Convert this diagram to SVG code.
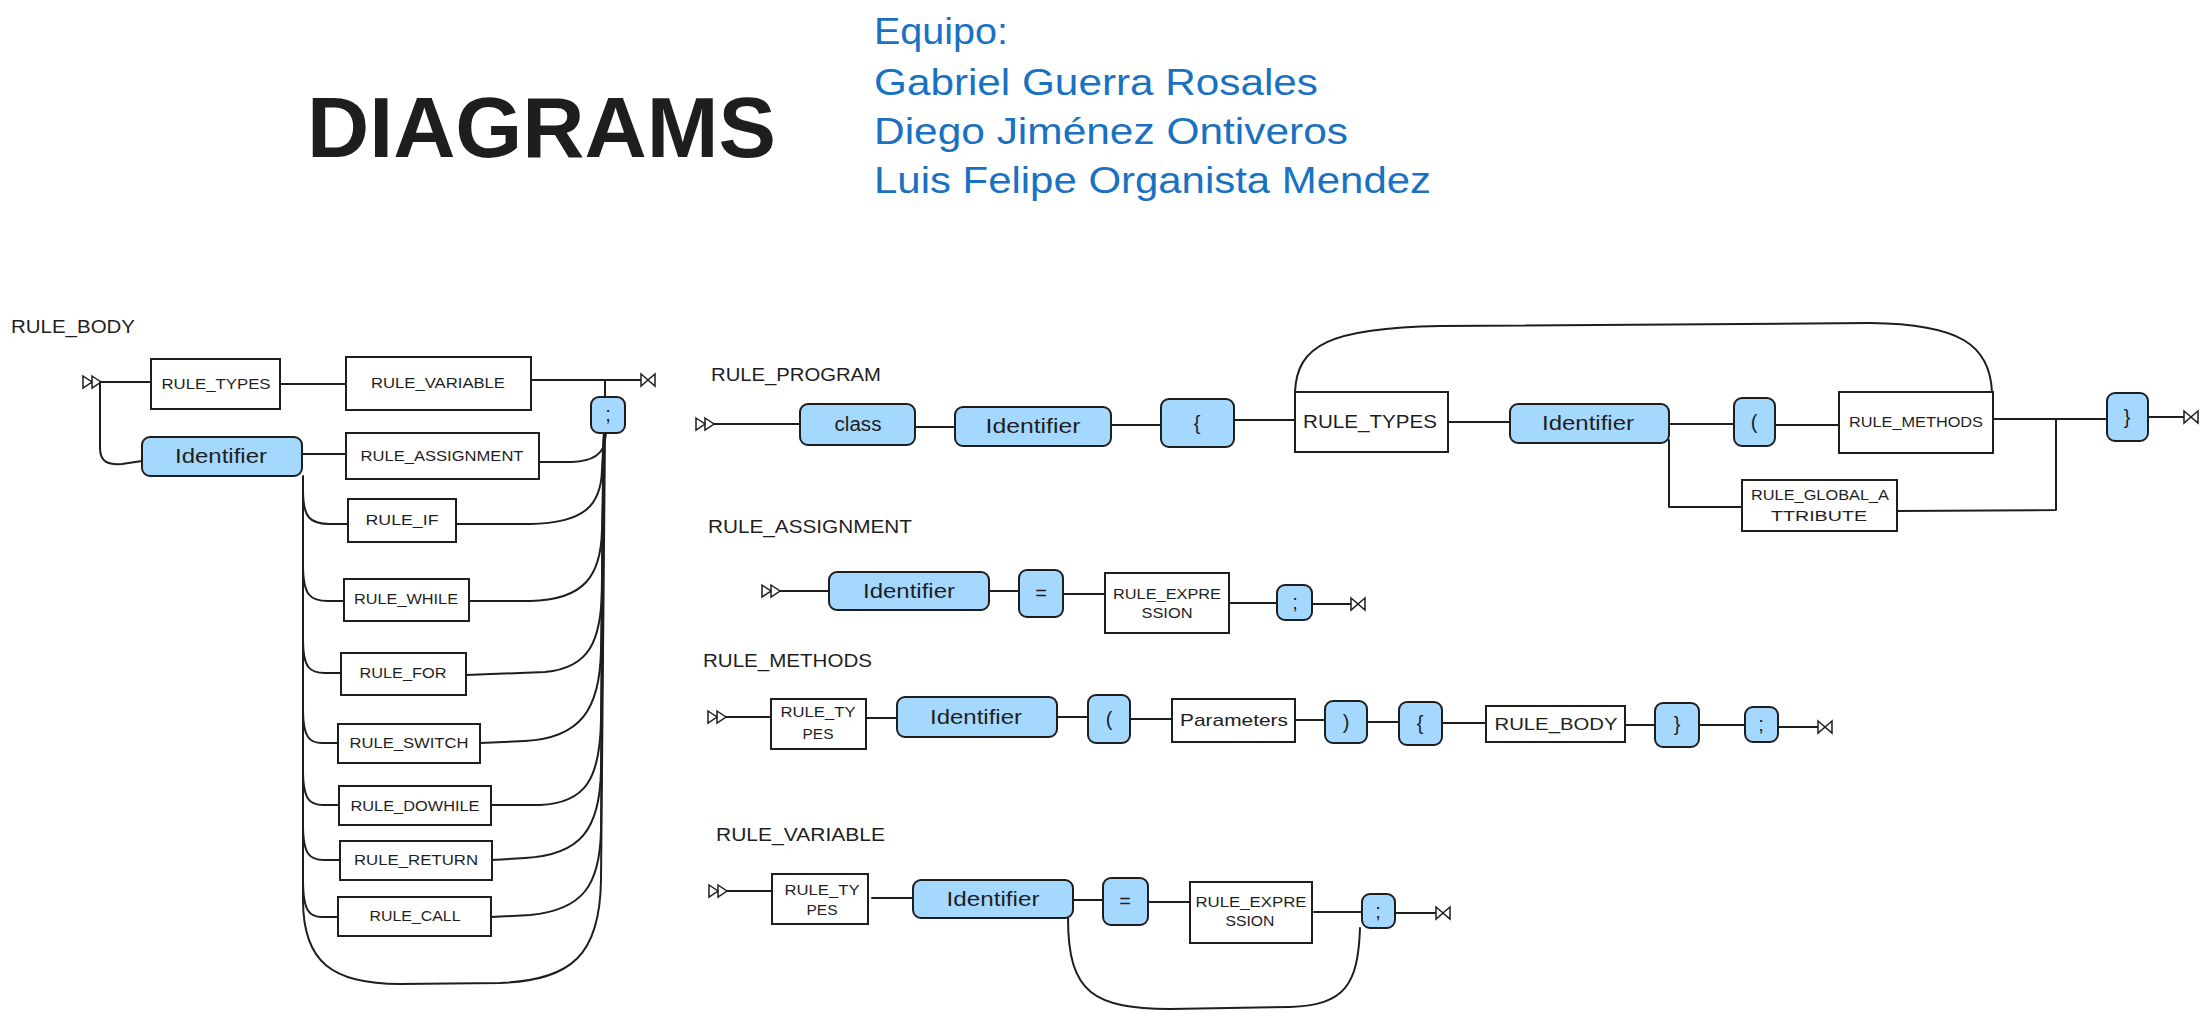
<svg xmlns="http://www.w3.org/2000/svg" width="2207" height="1020" viewBox="0 0 2207 1020">
<style>
.box{fill:#ffffff;stroke:#1e1e1e;stroke-width:2}
.tok{fill:#a5d8ff;stroke:#1e1e1e;stroke-width:2}
.c{fill:none;stroke:#1e1e1e;stroke-width:2;stroke-linecap:round;stroke-linejoin:round}
.t{font-family:"Liberation Sans",Arial,sans-serif;fill:#1e1e1e;text-anchor:middle}
.s{font-size:14px}
.m{font-size:20px}
.h{font-family:"Liberation Sans",Arial,sans-serif;fill:#1e1e1e;font-size:18px}
.blue{font-family:"Liberation Sans",Arial,sans-serif;fill:#1971c2;font-size:36px}
</style>
<defs>
<marker id="st" markerUnits="userSpaceOnUse" markerWidth="22" markerHeight="16" refX="19" refY="8" orient="auto" overflow="visible">
<path d="M1,2 L10,8 L1,14 Z M10,2 L19,8 L10,14 Z" fill="#ffffff" stroke="#1e1e1e" stroke-width="1.5"/>
</marker>
<marker id="en" markerUnits="userSpaceOnUse" markerWidth="20" markerHeight="16" refX="1" refY="8" orient="auto" overflow="visible">
<path d="M1,2 L8,8 L1,14 Z M15,2 L8,8 L15,14 Z" fill="#ffffff" stroke="#1e1e1e" stroke-width="1.5"/>
</marker>
</defs>
<rect width="2207" height="1020" fill="#ffffff"/>

<g id="header">
<text x="307" y="157" font-family="Liberation Sans,Arial,sans-serif" font-weight="bold" font-size="86" fill="#1e1e1e" textLength="469" lengthAdjust="spacingAndGlyphs">DIAGRAMS</text>
<text class="blue" x="874" y="44" textLength="134" lengthAdjust="spacingAndGlyphs">Equipo:</text>
<text class="blue" x="874" y="95" textLength="444" lengthAdjust="spacingAndGlyphs">Gabriel Guerra Rosales</text>
<text class="blue" x="874" y="144" textLength="474" lengthAdjust="spacingAndGlyphs">Diego Jiménez Ontiveros</text>
<text class="blue" x="874" y="193" textLength="557" lengthAdjust="spacingAndGlyphs">Luis Felipe Organista Mendez</text>
</g>

<g id="titles">
<text class="h" x="11" y="333" textLength="124" lengthAdjust="spacingAndGlyphs">RULE_BODY</text>
<text class="h" x="711" y="381" textLength="170" lengthAdjust="spacingAndGlyphs">RULE_PROGRAM</text>
<text class="h" x="708" y="533" textLength="204" lengthAdjust="spacingAndGlyphs">RULE_ASSIGNMENT</text>
<text class="h" x="703" y="667" textLength="169" lengthAdjust="spacingAndGlyphs">RULE_METHODS</text>
<text class="h" x="716" y="841" textLength="169" lengthAdjust="spacingAndGlyphs">RULE_VARIABLE</text>
</g>

<g id="connectors">
<!-- RULE_BODY -->
<path class="c" d="M101 382 L151 382" marker-start="url(#st)"/>
<path class="c" d="M280 384 L346 384"/>
<path class="c" d="M531 380 L641 380" marker-end="url(#en)"/>
<path class="c" d="M605 380 L605 397"/>
<path class="c" d="M100 382 L100 448 C100 462,108 465,122 464 L142 461"/>
<path class="c" d="M302 454 L346 454"/>
<path class="c" d="M539 462 L572 462 C596 461,604 452,605 440 L606 433"/>
<path class="c" d="M303 476 L303 900 C303 962,332 984,400 984 L500 983 C572 980,600 955,601 880 L605 433"/>
<path class="c" d="M303 490 C303 518,310 524,330 524 L348 524"/>
<path class="c" d="M456 524 L530 524 C585 523,601 505,602 470 L604 433"/>
<path class="c" d="M303 565 C303 595,310 601,328 601 L344 601"/>
<path class="c" d="M469 601 L530 601 C585 600,601 575,602 530 L604 433"/>
<path class="c" d="M303 640 C303 668,310 673,325 673 L341 673"/>
<path class="c" d="M466 675 L545 672 C590 668,601 640,602 590 L604 433"/>
<path class="c" d="M303 710 C303 738,310 743,322 743 L338 743"/>
<path class="c" d="M480 743 L525 741 C580 738,600 710,601 650 L604 433"/>
<path class="c" d="M303 770 C303 800,310 805,323 805 L339 805"/>
<path class="c" d="M491 805 L540 805 C585 803,600 780,601 720 L604 433"/>
<path class="c" d="M303 825 C303 855,310 860,324 860 L340 860"/>
<path class="c" d="M492 860 L525 858 C580 855,600 830,601 770 L604 433"/>
<path class="c" d="M303 880 C303 912,310 917,322 917 L338 917"/>
<path class="c" d="M491 917 L530 915 C583 910,600 885,601 830 L604 433"/>
<!-- RULE_PROGRAM -->
<path class="c" d="M714 424 L800 424" marker-start="url(#st)"/>
<path class="c" d="M915 427 L955 427"/>
<path class="c" d="M1111 425 L1161 425"/>
<path class="c" d="M1234 420 L1295 420"/>
<path class="c" d="M1295 392 C1297 345,1330 328,1440 326 L1870 323 C1960 324,1990 345,1992 392 L1993 419"/>
<path class="c" d="M1448 422 L1510 422"/>
<path class="c" d="M1669 424 L1734 424"/>
<path class="c" d="M1775 425 L1839 425"/>
<path class="c" d="M1993 419 L2107 419"/>
<path class="c" d="M2148 417 L2184 417" marker-end="url(#en)"/>
<path class="c" d="M1669 440 L1669 507 L1742 507"/>
<path class="c" d="M1897 511 L2056 510 L2056 419"/>
<!-- RULE_ASSIGNMENT -->
<path class="c" d="M780 591 L829 591" marker-start="url(#st)"/>
<path class="c" d="M989 591 L1019 591"/>
<path class="c" d="M1063 594 L1105 594"/>
<path class="c" d="M1229 603 L1277 603"/>
<path class="c" d="M1312 604 L1351 604" marker-end="url(#en)"/>
<!-- RULE_METHODS -->
<path class="c" d="M726 717 L771 717" marker-start="url(#st)"/>
<path class="c" d="M866 718 L897 718"/>
<path class="c" d="M1057 717 L1088 717"/>
<path class="c" d="M1130 719 L1172 719"/>
<path class="c" d="M1295 720 L1325 720"/>
<path class="c" d="M1367 722 L1399 722"/>
<path class="c" d="M1442 723 L1486 723"/>
<path class="c" d="M1625 725 L1655 725"/>
<path class="c" d="M1699 725 L1745 725"/>
<path class="c" d="M1778 727 L1818 727" marker-end="url(#en)"/>
<!-- RULE_VARIABLE -->
<path class="c" d="M727 891 L772 891" marker-start="url(#st)"/>
<path class="c" d="M872 898 L913 898"/>
<path class="c" d="M1073 900 L1103 900"/>
<path class="c" d="M1148 902 L1190 902"/>
<path class="c" d="M1314 912 L1362 912"/>
<path class="c" d="M1395 913 L1436 913" marker-end="url(#en)"/>
<path class="c" d="M1068 918 C1068 995,1095 1008,1170 1009 L1290 1007 C1345 1005,1358 985,1360 928"/>
</g>

<!-- RULE_BODY nodes -->
<g id="body_types"><rect class="box" x="151" y="359" width="129" height="50"/><text class="t s" x="216" y="389" textLength="109" lengthAdjust="spacingAndGlyphs">RULE_TYPES</text></g>
<g id="body_variable"><rect class="box" x="346" y="357" width="185" height="53"/><text class="t s" x="438" y="388" textLength="134" lengthAdjust="spacingAndGlyphs">RULE_VARIABLE</text></g>
<g id="body_identifier"><rect class="tok" x="142" y="437" width="160" height="39" rx="8"/><text class="t m" x="221" y="463" textLength="92" lengthAdjust="spacingAndGlyphs">Identifier</text></g>
<g id="body_assignment"><rect class="box" x="346" y="433" width="193" height="46"/><text class="t s" x="442" y="461" textLength="163" lengthAdjust="spacingAndGlyphs">RULE_ASSIGNMENT</text></g>
<g id="body_semi"><rect class="tok" x="591" y="397" width="34" height="36" rx="8"/><text class="t m" x="608" y="421">;</text></g>
<g id="body_if"><rect class="box" x="348" y="499" width="108" height="43"/><text class="t s" x="402" y="525" textLength="73" lengthAdjust="spacingAndGlyphs">RULE_IF</text></g>
<g id="body_while"><rect class="box" x="344" y="579" width="125" height="42"/><text class="t s" x="406" y="604" textLength="104" lengthAdjust="spacingAndGlyphs">RULE_WHILE</text></g>
<g id="body_for"><rect class="box" x="341" y="653" width="125" height="42"/><text class="t s" x="403" y="678" textLength="87" lengthAdjust="spacingAndGlyphs">RULE_FOR</text></g>
<g id="body_switch"><rect class="box" x="338" y="724" width="142" height="39"/><text class="t s" x="409" y="748" textLength="119" lengthAdjust="spacingAndGlyphs">RULE_SWITCH</text></g>
<g id="body_dowhile"><rect class="box" x="339" y="786" width="152" height="39"/><text class="t s" x="415" y="811" textLength="129" lengthAdjust="spacingAndGlyphs">RULE_DOWHILE</text></g>
<g id="body_return"><rect class="box" x="340" y="841" width="152" height="39"/><text class="t s" x="416" y="865" textLength="124" lengthAdjust="spacingAndGlyphs">RULE_RETURN</text></g>
<g id="body_call"><rect class="box" x="338" y="897" width="153" height="39"/><text class="t s" x="415" y="921" textLength="91" lengthAdjust="spacingAndGlyphs">RULE_CALL</text></g>

<!-- RULE_PROGRAM nodes -->
<g id="prog_class"><rect class="tok" x="800" y="404" width="115" height="41" rx="8"/><text class="t m" x="858" y="431" textLength="47" lengthAdjust="spacingAndGlyphs">class</text></g>
<g id="prog_identifier"><rect class="tok" x="955" y="407" width="156" height="39" rx="8"/><text class="t m" x="1033" y="433" textLength="95" lengthAdjust="spacingAndGlyphs">Identifier</text></g>
<g id="prog_lbrace"><rect class="tok" x="1161" y="399" width="73" height="48" rx="8"/><text class="t m" x="1197" y="430">{</text></g>
<g id="prog_types"><rect class="box" x="1295" y="392" width="153" height="60"/><text class="t" style="font-size:18px" x="1370" y="428" textLength="134" lengthAdjust="spacingAndGlyphs">RULE_TYPES</text></g>
<g id="prog_identifier2"><rect class="tok" x="1510" y="404" width="159" height="39" rx="8"/><text class="t m" x="1588" y="430" textLength="92" lengthAdjust="spacingAndGlyphs">Identifier</text></g>
<g id="prog_lparen"><rect class="tok" x="1734" y="398" width="41" height="48" rx="8"/><text class="t m" x="1754" y="429">(</text></g>
<g id="prog_methods"><rect class="box" x="1839" y="392" width="154" height="61"/><text class="t s" x="1916" y="427" textLength="134" lengthAdjust="spacingAndGlyphs">RULE_METHODS</text></g>
<g id="prog_rbrace"><rect class="tok" x="2107" y="393" width="41" height="48" rx="8"/><text class="t m" x="2127" y="424">}</text></g>
<g id="prog_global"><rect class="box" x="1742" y="480" width="155" height="51"/><text class="t s" x="1820" y="500" textLength="138" lengthAdjust="spacingAndGlyphs">RULE_GLOBAL_A</text><text class="t s" x="1819" y="521" textLength="96" lengthAdjust="spacingAndGlyphs">TTRIBUTE</text></g>

<!-- RULE_ASSIGNMENT nodes -->
<g id="asg_identifier"><rect class="tok" x="829" y="572" width="160" height="38" rx="8"/><text class="t m" x="909" y="598" textLength="92" lengthAdjust="spacingAndGlyphs">Identifier</text></g>
<g id="asg_eq"><rect class="tok" x="1019" y="570" width="44" height="47" rx="8"/><text class="t m" x="1041" y="600">=</text></g>
<g id="asg_expr"><rect class="box" x="1105" y="573" width="124" height="60"/><text class="t s" x="1167" y="599" textLength="108" lengthAdjust="spacingAndGlyphs">RULE_EXPRE</text><text class="t s" x="1167" y="618" textLength="51" lengthAdjust="spacingAndGlyphs">SSION</text></g>
<g id="asg_semi"><rect class="tok" x="1277" y="585" width="35" height="35" rx="8"/><text class="t m" x="1295" y="609">;</text></g>

<!-- RULE_METHODS nodes -->
<g id="met_types"><rect class="box" x="771" y="699" width="95" height="50"/><text class="t s" x="818" y="717" textLength="75" lengthAdjust="spacingAndGlyphs">RULE_TY</text><text class="t s" x="818" y="739" textLength="31" lengthAdjust="spacingAndGlyphs">PES</text></g>
<g id="met_identifier"><rect class="tok" x="897" y="697" width="160" height="40" rx="8"/><text class="t m" x="976" y="724" textLength="92" lengthAdjust="spacingAndGlyphs">Identifier</text></g>
<g id="met_lparen"><rect class="tok" x="1088" y="695" width="42" height="48" rx="8"/><text class="t m" x="1109" y="726">(</text></g>
<g id="met_params"><rect class="box" x="1172" y="699" width="123" height="43"/><text class="t" style="font-size:17px" x="1234" y="726" textLength="108" lengthAdjust="spacingAndGlyphs">Parameters</text></g>
<g id="met_rparen"><rect class="tok" x="1325" y="701" width="42" height="42" rx="8"/><text class="t m" x="1346" y="729">)</text></g>
<g id="met_lbrace"><rect class="tok" x="1399" y="702" width="43" height="43" rx="8"/><text class="t m" x="1420" y="730">{</text></g>
<g id="met_body"><rect class="box" x="1486" y="706" width="139" height="36"/><text class="t" style="font-size:17px" x="1556" y="730" textLength="123" lengthAdjust="spacingAndGlyphs">RULE_BODY</text></g>
<g id="met_rbrace"><rect class="tok" x="1655" y="703" width="44" height="44" rx="8"/><text class="t m" x="1677" y="731">}</text></g>
<g id="met_semi"><rect class="tok" x="1745" y="707" width="33" height="35" rx="8"/><text class="t m" x="1761" y="731">;</text></g>

<!-- RULE_VARIABLE nodes -->
<g id="var_types"><rect class="box" x="772" y="874" width="96" height="50"/><text class="t s" x="822" y="895" textLength="75" lengthAdjust="spacingAndGlyphs">RULE_TY</text><text class="t s" x="822" y="915" textLength="31" lengthAdjust="spacingAndGlyphs">PES</text></g>
<g id="var_identifier"><rect class="tok" x="913" y="880" width="160" height="38" rx="8"/><text class="t m" x="993" y="906" textLength="93" lengthAdjust="spacingAndGlyphs">Identifier</text></g>
<g id="var_eq"><rect class="tok" x="1103" y="878" width="45" height="47" rx="8"/><text class="t m" x="1125" y="908">=</text></g>
<g id="var_expr"><rect class="box" x="1190" y="882" width="122" height="61"/><text class="t s" x="1251" y="907" textLength="111" lengthAdjust="spacingAndGlyphs">RULE_EXPRE</text><text class="t s" x="1250" y="926" textLength="49" lengthAdjust="spacingAndGlyphs">SSION</text></g>
<g id="var_semi"><rect class="tok" x="1362" y="894" width="33" height="34" rx="8"/><text class="t m" x="1378" y="918">;</text></g>
</svg>
